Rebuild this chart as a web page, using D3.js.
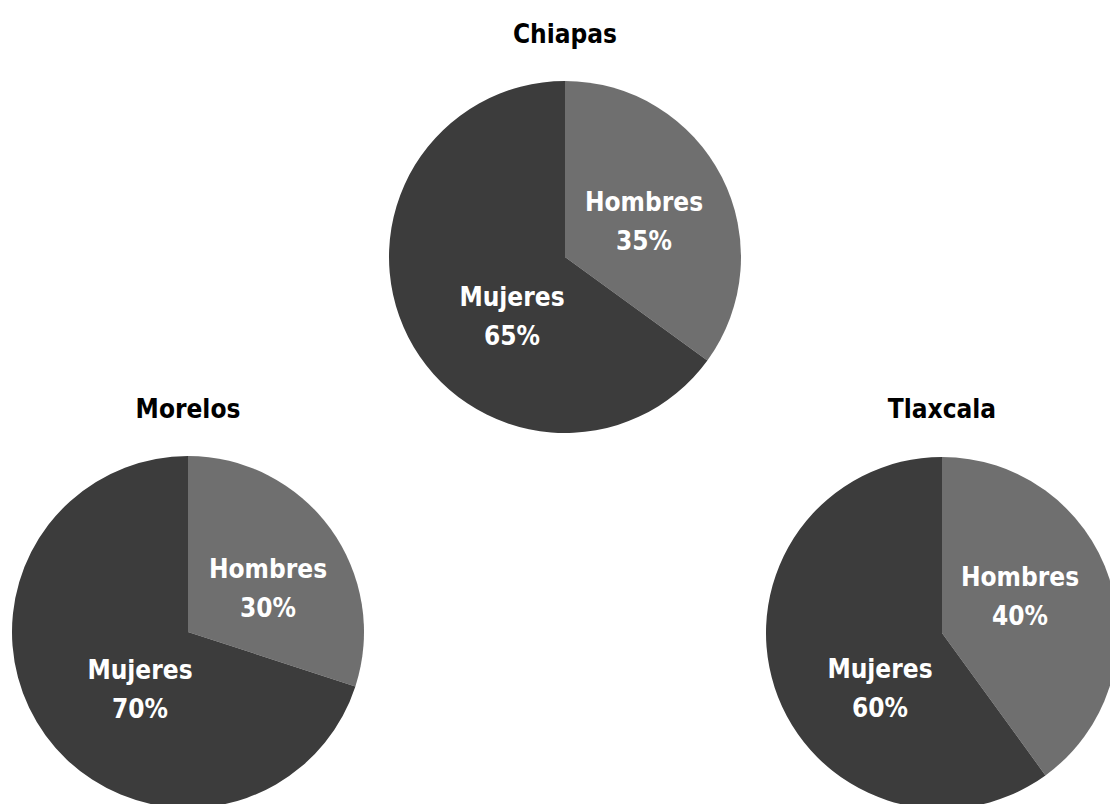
<!DOCTYPE html>
<html>
<head>
<meta charset="utf-8">
<script src="https://cdn.jsdelivr.net/npm/d3@7"></script>
<style>
  html, body { margin: 0; padding: 0; background: #ffffff; }
  svg { display: block; }
</style>
</head>
<body>
<svg id="chart" width="1110" height="804"></svg>
<script>
// States and the share of each sex (percent)
const states = ["Chiapas", "Morelos", "Tlaxcala"];
const categories = ["Hombres", "Mujeres"];
const hombres = [35, 30, 40];
const mujeres = [65, 70, 60];

// Layout: pie centres, title positions and label block offsets from the centre
const layout = [
  { cx: 565, cy: 257, titleY: 34,  labels: [[79, -36], [-53, 59]] },
  { cx: 188, cy: 632, titleY: 409, labels: [[80, -44], [-48, 57]] },
  { cx: 942, cy: 633, titleY: 409, labels: [[78, -37], [-62, 55]] }
];
const radius = 176;

const color = d3.scaleOrdinal().domain(categories).range(["#6f6f6f", "#3c3c3c"]);
const pie = d3.pie().sort(null).value(d => d.value);
const arc = d3.arc().innerRadius(0).outerRadius(radius);

const svg = d3.select("#chart");
const font = "'DejaVu Sans Condensed', 'DejaVu Sans', sans-serif";

states.forEach((state, i) => {
  const data = [
    { key: categories[0], value: hombres[i] },
    { key: categories[1], value: mujeres[i] }
  ];
  const L = layout[i];
  const g = svg.append("g").attr("transform", `translate(${L.cx},${L.cy})`);

  g.selectAll("path.slice")
    .data(pie(data))
    .join("path")
    .attr("class", "slice")
    .attr("d", arc)
    .attr("fill", d => color(d.data.key));

  const lbl = g.selectAll("text.lbl")
    .data(pie(data))
    .join("text")
    .attr("class", "lbl")
    .attr("transform", (d, j) => `translate(${L.labels[j][0]},${L.labels[j][1]})`)
    .attr("text-anchor", "middle")
    .attr("fill", "#ffffff")
    .style("font-family", font)
    .style("font-weight", "bold")
    .style("font-size", "26px");
  lbl.append("tspan").attr("x", 0).attr("y", -19).attr("dominant-baseline", "central")
    .text(d => d.data.key);
  lbl.append("tspan").attr("x", 0).attr("y", 20).attr("dominant-baseline", "central")
    .text(d => d.data.value + "%");

  svg.append("text")
    .attr("x", L.cx)
    .attr("y", L.titleY)
    .attr("text-anchor", "middle")
    .attr("dominant-baseline", "central")
    .attr("fill", "#000000")
    .style("font-family", font)
    .style("font-weight", "bold")
    .style("font-size", "26px")
    .text(state);
});
</script>
</body>
</html>
